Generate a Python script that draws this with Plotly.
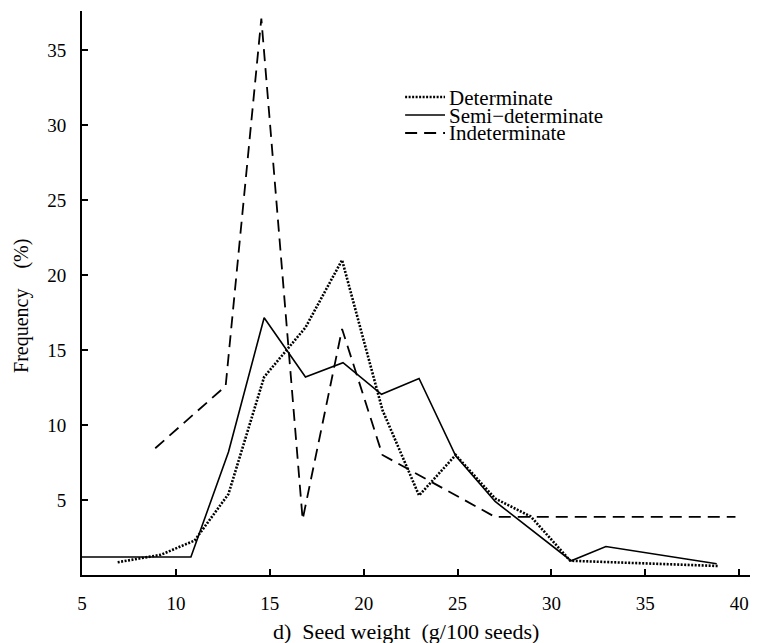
import plotly.graph_objects as go

# ---- data ----
det_x = [6.9, 9.2, 11.0, 12.8, 14.7, 16.9, 18.85, 21.0, 22.95, 24.9, 27.0, 28.9, 31.0, 38.9]
det_y = [0.85, 1.35, 2.3, 5.4, 13.2, 16.5, 21.0, 11.0, 5.3, 8.0, 5.1, 3.9, 0.95, 0.6]

semi_x = [5.0, 10.8, 12.8, 14.7, 16.9, 18.9, 20.95, 22.95, 24.9, 27.0, 31.05, 32.9, 38.8]
semi_y = [1.2, 1.2, 8.2, 17.15, 13.2, 14.15, 12.05, 13.1, 7.95, 4.9, 0.95, 1.9, 0.75]

ind_x = [8.9, 12.65, 14.55, 16.75, 18.85, 21.0, 27.0, 39.8]
ind_y = [8.45, 12.6, 37.1, 3.7, 16.4, 8.0, 3.87, 3.87]

x_ticks = [5, 10, 15, 20, 25, 30, 35, 40]
y_ticks = [5, 10, 15, 20, 25, 30, 35]

series_names = ["Determinate", "Semi\u2212determinate", "Indeterminate"]

FONT = "Liberation Serif"
BLACK = "#000000"

det_style = dict(color=BLACK, width=2.6, dash="2px,1.5px")
semi_style = dict(color=BLACK, width=1.6)
ind_style = dict(color=BLACK, width=1.8, dash="12px,7px")

fig = go.Figure()
fig.add_trace(go.Scatter(x=det_x, y=det_y, mode="lines", line=det_style,
                         name=series_names[0], showlegend=False))
fig.add_trace(go.Scatter(x=semi_x, y=semi_y, mode="lines", line=semi_style,
                         name=series_names[1], showlegend=False))
fig.add_trace(go.Scatter(x=ind_x, y=ind_y, mode="lines", line=ind_style,
                         name=series_names[2], showlegend=False))

# manual legend (long line samples like the original)
leg_x0, leg_x1, leg_tx = 0.478, 0.537, 0.541
leg_rows = [0.8475, 0.8156, 0.7837]
for name, style, yy in zip(series_names, [det_style, semi_style, ind_style], leg_rows):
    fig.add_shape(type="line", xref="paper", yref="paper",
                  x0=leg_x0, x1=leg_x1, y0=yy, y1=yy, line=style)
    fig.add_annotation(xref="paper", yref="paper", x=leg_tx, y=yy, text=name,
                       showarrow=False, xanchor="left", yanchor="middle",
                       height=17, borderpad=0, valign="middle",
                       font=dict(family=FONT, size=21, color=BLACK))

# axis titles
fig.add_annotation(xref="paper", yref="paper", x=0.479, y=-0.101,
                   text="d)\u00a0 Seed weight\u00a0 (g/100 seeds)", showarrow=False,
                   xanchor="center", yanchor="middle",
                   font=dict(family=FONT, size=22, color=BLACK))
fig.add_annotation(xref="paper", yref="paper", x=0, xshift=-60, y=0.477,
                   text="Frequency\u00a0\u00a0\u00a0 (%)", showarrow=False, textangle=-90,
                   xanchor="center", yanchor="middle",
                   font=dict(family=FONT, size=20, color=BLACK))

# page body has an 8px default margin, so the figure is offset by 8px
fig.update_layout(
    width=750, height=635,
    margin=dict(l=74, r=0, t=3, b=68),
    paper_bgcolor="white", plot_bgcolor="white",
    font=dict(family=FONT, size=18, color=BLACK),
    xaxis=dict(range=[5, 41], tickvals=x_ticks, ticktext=[str(v) for v in x_ticks],
               showgrid=False, zeroline=False, showline=True, linecolor=BLACK, linewidth=2,
               ticks="inside", ticklen=6, tickwidth=2, tickcolor=BLACK,
               ticklabelstandoff=10, tickfont=dict(family=FONT, size=19, color=BLACK)),
    yaxis=dict(range=[0, 37.6], tickvals=y_ticks, ticktext=[str(v) for v in y_ticks],
               showgrid=False, zeroline=False, showline=True, linecolor=BLACK, linewidth=2,
               ticks="inside", ticklen=6, tickwidth=2, tickcolor=BLACK,
               ticklabelstandoff=10, tickfont=dict(family=FONT, size=19, color=BLACK)),
)

fig.write_html("out.html")
